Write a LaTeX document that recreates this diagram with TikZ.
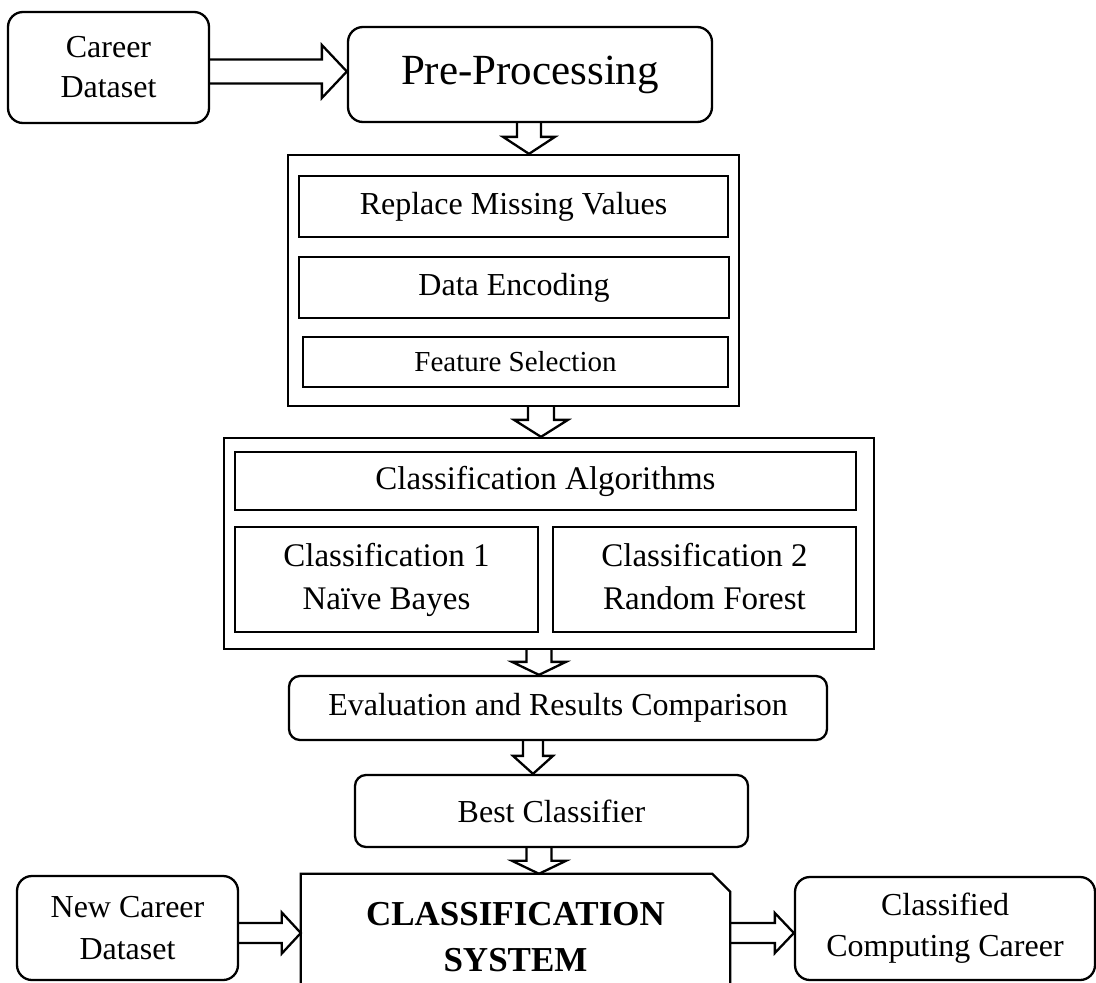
\documentclass[tikz,border=0pt]{standalone}
\usepackage{fontspec}
\setmainfont{Liberation Serif}
\usetikzlibrary{calc}
\newcommand{\fsz}[2]{\fontsize{#1}{#2}\selectfont}
\tikzset{
  box/.style={draw, line width=2.3pt, align=center, inner sep=0pt, font=\fsz{32}{40}},
  rbox/.style={box, rounded corners=15pt},
  sbox/.style={box, rounded corners=11pt},
  blk/.style={draw, line width=2.3pt, line join=miter},
}
% vertical block arrow: #1 x-ref coordinate, #2 from anchor, #3 to anchor, #4 shaft half width, #5 head half width, #6 head length
\newcommand{\bdown}[6]{\draw[blk] let \p1=(#2 -| #1), \p2=(#3 -| #1) in
  (\x1-#4pt,\y1) -- (\x1-#4pt,\y2+#6pt) -- (\x1-#5pt,\y2+#6pt) -- (\x1,\y2) -- (\x1+#5pt,\y2+#6pt) -- (\x1+#4pt,\y2+#6pt) -- (\x1+#4pt,\y1);}
% horizontal block arrow: #1 y-ref coordinate, #2 from anchor, #3 to anchor
\newcommand{\bright}[6]{\draw[blk] let \p1=(#2 |- #1), \p2=(#3 |- #1) in
  (\x1,\y1+#4pt) -- (\x2-#6pt,\y1+#4pt) -- (\x2-#6pt,\y1+#5pt) -- (\x2,\y1) -- (\x2-#6pt,\y1-#5pt) -- (\x2-#6pt,\y1-#4pt) -- (\x1,\y1-#4pt);}
\begin{document}
\begin{tikzpicture}[x=1pt,y=-1pt]
\useasboundingbox (0,0) rectangle (1096,983);
\clip (0,0) rectangle (1096,983);

% nodes
\node[rbox, minimum width=201pt, minimum height=111pt] (career) at (108.5,67.5) {Career\\Dataset};
\node[rbox, minimum width=364pt, minimum height=95pt, font=\fsz{43}{50}] (pre) at (530,74.5) {Pre-Processing};

\node[box, minimum width=451pt, minimum height=251pt] (prebox) at (513.5,280.5) {};
\node[box, minimum width=429pt, minimum height=61pt] (rmv) at (513.5,206.5) {Replace Missing Values};
\node[box, minimum width=430pt, minimum height=61pt] (enc) at (514,287.5) {Data Encoding};
\node[box, minimum width=425pt, minimum height=50pt, font=\fsz{29}{35}] (fs) at (515.5,362) {Feature Selection};

\node[box, minimum width=650pt, minimum height=211pt] (clsbox) at (549,543.5) {};
\node[box, minimum width=621pt, minimum height=58pt, font=\fsz{33}{40}] (alg) at (545.5,481) {Classification Algorithms};
\node[box, minimum width=303pt, minimum height=105pt, font=\fsz{33}{43}] (c1) at (386.5,579.5) {Classification 1\\Na\"ive Bayes};
\node[box, minimum width=303pt, minimum height=105pt, font=\fsz{33}{43}] (c2) at (704.5,579.5) {Classification 2\\Random Forest\vphantom{y}};

\node[sbox, minimum width=538pt, minimum height=64pt] (eval) at (558,708) {Evaluation and Results Comparison};
\node[sbox, minimum width=393pt, minimum height=72pt] (best) at (551.5,811) {Best Classifier};

\node[inner sep=0pt, minimum width=429pt, minimum height=126pt, align=center, font=\fsz{35}{46}\bfseries] (sys) at (515.5,937) {CLASSIFICATION\\SYSTEM};
\draw[line width=2.3pt, line join=miter] (sys.south west) -- (sys.north west) -- ([xshift=-18pt]sys.north east) -- ([yshift=-18pt]sys.north east) -- (sys.south east);

\node[rbox, minimum width=221pt, minimum height=104pt, font=\fsz{32}{42}] (newc) at (127.5,928) {New Career\\Dataset};
\node[rbox, minimum width=300pt, minimum height=103pt, font=\fsz{32}{41}] (out) at (945,928.5) {Classified\\Computing Career};

% reference coordinates for arrows
\coordinate (ya) at (0,71.5);
\coordinate (yb) at (0,933);
\coordinate (xa) at (529,0);
\coordinate (xb) at (541,0);
\coordinate (xc) at (539,0);
\coordinate (xd) at (533,0);
\coordinate (xe) at (539,0);

% block arrows
\bright{ya}{career.east}{pre.west}{12}{26.5}{25}
\bdown{xa}{pre.south}{prebox.north}{12}{26}{17}
\bdown{xb}{prebox.south}{clsbox.north}{13}{27}{17}
\bdown{xc}{clsbox.south}{eval.north}{12.5}{27}{13}
\bdown{xd}{eval.south}{best.north}{10}{20}{18}
\bdown{xe}{best.south}{sys.north}{12.5}{27}{13}
\bright{yb}{newc.east}{sys.west}{10}{20.5}{19}
\bright{yb}{sys.east}{out.west}{10}{20}{19}
\end{tikzpicture}
\end{document}
